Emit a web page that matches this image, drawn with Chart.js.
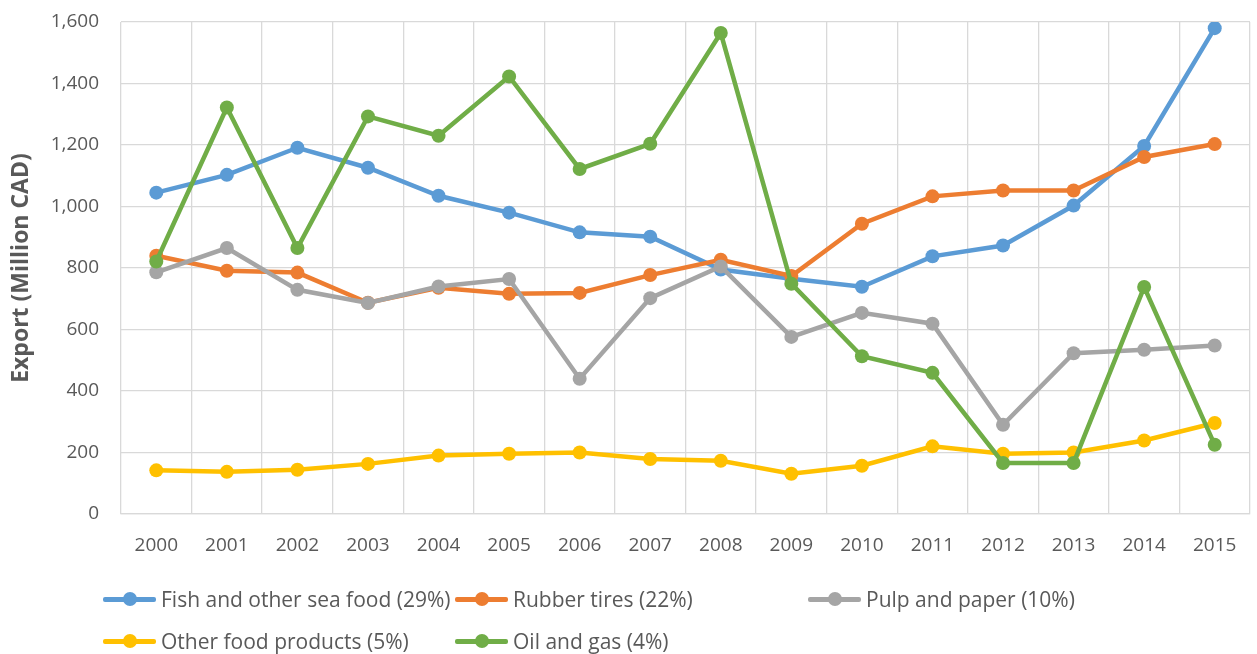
<!DOCTYPE html>
<html>
<head>
<meta charset="utf-8">
<script src="https://cdn.jsdelivr.net/npm/chart.js@4.4.1/dist/chart.umd.min.js"></script>
<style>
  html, body { margin: 0; padding: 0; background: #fff; }
  #wrap { position: relative; width: 1257px; height: 654px; }
  #legend { position: absolute; left: 0; top: 0; width: 1257px; height: 654px; pointer-events: none;
    font-family: "Open Sans", sans-serif; font-size: 21px; color: #595959; }
  .item { position: absolute; display: flex; align-items: center; white-space: nowrap; }
  .swatch { position: relative; width: 53px; height: 14px; margin-right: 5px; }
  .swatch .ln { position: absolute; left: 0; right: 0; top: 5px; height: 4.5px; border-radius: 2px; }
  .swatch .dot { position: absolute; left: 19.5px; top: 0; width: 14px; height: 14px; border-radius: 50%; }
</style>
</head>
<body>
<div id="wrap">
  <canvas id="chart" width="1257" height="654"></canvas>
  <div id="legend"></div>
</div>
<script>
// categories
const years = ["2000", "2001", "2002", "2003", "2004", "2005", "2006", "2007",
  "2008", "2009", "2010", "2011", "2012", "2013", "2014", "2015"];

// series values (Million CAD)
const fish = [1045, 1103, 1191, 1126, 1035, 980, 916, 902, 795, 765, 739, 838, 873, 1003, 1197, 1580];
const rubber = [840, 791, 785, 687, 736, 716, 719, 777, 827, 774, 944, 1033, 1052, 1052, 1161, 1203];
const pulp = [786, 865, 729, 686, 740, 764, 440, 702, 805, 576, 654, 619, 290, 523, 534, 548];
const otherFood = [142, 137, 144, 163, 190, 196, 200, 179, 173, 131, 157, 220, 196, 200, 239, 296];
const oilGas = [821, 1322, 865, 1293, 1230, 1423, 1122, 1204, 1564, 749, 513, 459, 166, 166, 738, 225];

const seriesNames = ["Fish and other sea food (29%)", "Rubber tires (22%)", "Pulp and paper (10%)",
  "Other food products (5%)", "Oil and gas (4%)"];
const seriesData = [fish, rubber, pulp, otherFood, oilGas];
const seriesColors = ["#5B9BD5", "#ED7D31", "#A5A5A5", "#FFC000", "#70AD47"];

// y axis ticks
const yMin = 0;
const yMax = 1600;
const yStep = 200;

const fontFamily = "'Open Sans', sans-serif";
const textColor = "#595959";
const gridColor = "#D9D9D9";

const datasets = seriesData.map((data, i) => ({
  label: seriesNames[i],
  data: data,
  borderColor: seriesColors[i],
  backgroundColor: seriesColors[i],
  pointBackgroundColor: seriesColors[i],
  pointBorderColor: seriesColors[i],
  borderWidth: 4.5,
  pointRadius: 7,
  pointBorderWidth: 0,
  tension: 0,
  fill: false,
  order: seriesData.length - i, // later series drawn on top, like the original
}));

const ctx = document.getElementById("chart").getContext("2d");
new Chart(ctx, {
  type: "line",
  data: { labels: years, datasets: datasets },
  options: {
    responsive: false,
    animation: false,
    layout: { padding: { top: 22, right: 4, bottom: 100, left: 0 } },
    plugins: {
      legend: { display: false },
      tooltip: { enabled: false },
    },
    scales: {
      x: {
        offset: true,
        grid: { offset: true, color: gridColor, lineWidth: 1.3, drawTicks: false },
        border: { color: gridColor, width: 1.3 },
        ticks: {
          color: textColor,
          padding: 20,
          maxRotation: 0,
          autoSkip: false,
          font: { family: fontFamily, size: 19 },
        },
        afterFit: (scale) => { scale.height = 40; },
      },
      y: {
        min: yMin,
        max: yMax,
        grid: { color: gridColor, lineWidth: 1.3, drawTicks: false },
        border: { display: false },
        ticks: {
          stepSize: yStep,
          color: textColor,
          padding: 22,
          font: { family: fontFamily, size: 19 },
          callback: (v) => v.toLocaleString("en-US"),
        },
        title: {
          display: true,
          text: "Export (Million CAD)",
          color: textColor,
          padding: { top: 8, bottom: 0 },
          font: { family: fontFamily, size: 23, weight: "bold" },
        },
        afterFit: (scale) => {
          // fixed axis width; tick padding should not push the plot top down
          scale.width = 121;
          scale.paddingTop = 10;
          scale.paddingBottom = 10;
        },
      },
    },
  },
});

// legend laid out in a grid like the original
const legendSlots = [
  { left: 103, top: 589 }, { left: 455, top: 589 }, { left: 808, top: 589 },
  { left: 103, top: 631 }, { left: 455, top: 631 },
];
const legend = document.getElementById("legend");
seriesNames.forEach((name, i) => {
  const item = document.createElement("div");
  item.className = "item";
  item.style.left = legendSlots[i].left + "px";
  item.style.top = legendSlots[i].top + "px";
  item.style.height = "20px";
  item.innerHTML =
    `<div class="swatch"><div class="ln" style="background:${seriesColors[i]}"></div>` +
    `<div class="dot" style="background:${seriesColors[i]}"></div></div><span>${name}</span>`;
  legend.appendChild(item);
});
</script>
</body>
</html>
